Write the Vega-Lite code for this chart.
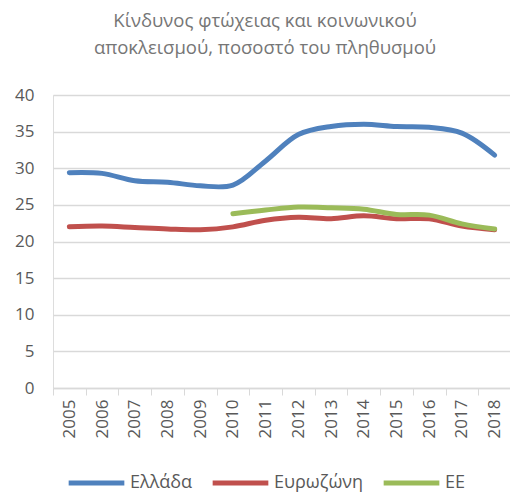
{
  "$schema": "https://vega.github.io/schema/vega-lite/v6.json",
  "autosize": "none",
  "width": 458,
  "height": 293,
  "padding": {"left": 53, "top": 95, "right": 0, "bottom": 105},
  "background": "white",
  "title": {
    "text": ["Κίνδυνος φτώχειας και κοινωνικού", "αποκλεισμού, ποσοστό του πληθυσμού"],
    "font": "Open Sans",
    "fontSize": 18.5,
    "fontWeight": "normal",
    "color": "#767676",
    "anchor": "middle",
    "dx": -17,
    "offset": 29,
    "lineHeight": 27
  },
  "data": {
    "values": [
      {"year": "2005", "country": "Ελλάδα", "value": 29.4},
      {"year": "2006", "country": "Ελλάδα", "value": 29.3},
      {"year": "2007", "country": "Ελλάδα", "value": 28.3},
      {"year": "2008", "country": "Ελλάδα", "value": 28.1},
      {"year": "2009", "country": "Ελλάδα", "value": 27.6},
      {"year": "2010", "country": "Ελλάδα", "value": 27.7},
      {"year": "2011", "country": "Ελλάδα", "value": 31.0},
      {"year": "2012", "country": "Ελλάδα", "value": 34.6},
      {"year": "2013", "country": "Ελλάδα", "value": 35.7},
      {"year": "2014", "country": "Ελλάδα", "value": 36.0},
      {"year": "2015", "country": "Ελλάδα", "value": 35.7},
      {"year": "2016", "country": "Ελλάδα", "value": 35.6},
      {"year": "2017", "country": "Ελλάδα", "value": 34.8},
      {"year": "2018", "country": "Ελλάδα", "value": 31.8},
      {"year": "2005", "country": "Ευρωζώνη", "value": 22.0},
      {"year": "2006", "country": "Ευρωζώνη", "value": 22.1},
      {"year": "2007", "country": "Ευρωζώνη", "value": 21.9},
      {"year": "2008", "country": "Ευρωζώνη", "value": 21.7},
      {"year": "2009", "country": "Ευρωζώνη", "value": 21.6},
      {"year": "2010", "country": "Ευρωζώνη", "value": 22.0},
      {"year": "2011", "country": "Ευρωζώνη", "value": 22.9},
      {"year": "2012", "country": "Ευρωζώνη", "value": 23.3},
      {"year": "2013", "country": "Ευρωζώνη", "value": 23.1},
      {"year": "2014", "country": "Ευρωζώνη", "value": 23.5},
      {"year": "2015", "country": "Ευρωζώνη", "value": 23.1},
      {"year": "2016", "country": "Ευρωζώνη", "value": 23.1},
      {"year": "2017", "country": "Ευρωζώνη", "value": 22.1},
      {"year": "2018", "country": "Ευρωζώνη", "value": 21.6},
      {"year": "2010", "country": "ΕΕ", "value": 23.8},
      {"year": "2011", "country": "ΕΕ", "value": 24.3},
      {"year": "2012", "country": "ΕΕ", "value": 24.7},
      {"year": "2013", "country": "ΕΕ", "value": 24.6},
      {"year": "2014", "country": "ΕΕ", "value": 24.4},
      {"year": "2015", "country": "ΕΕ", "value": 23.7},
      {"year": "2016", "country": "ΕΕ", "value": 23.6},
      {"year": "2017", "country": "ΕΕ", "value": 22.4},
      {"year": "2018", "country": "ΕΕ", "value": 21.7}
    ]
  },
  "mark": {"type": "line", "interpolate": "catmull-rom", "strokeWidth": 5, "strokeCap": "round"},
  "encoding": {
    "x": {
      "field": "year",
      "type": "ordinal",
      "scale": {"paddingInner": 0, "paddingOuter": 0},
      "axis": {
        "title": null,
        "labelAngle": -90,
        "labelFont": "Open Sans",
        "labelFontSize": 17,
        "labelColor": "#595959",
        "labelPadding": 4,
        "tickBand": "extent",
        "tickColor": "#d9d9d9",
        "tickSize": 7,
        "domainColor": "#d9d9d9",
        "domainWidth": 1.5,
        "grid": false
      }
    },
    "y": {
      "field": "value",
      "type": "quantitative",
      "scale": {"domain": [0, 40]},
      "axis": {
        "title": null,
        "values": [0, 5, 10, 15, 20, 25, 30, 35, 40],
        "labelFont": "Open Sans",
        "labelFontSize": 17,
        "labelColor": "#595959",
        "labelPadding": 19,
        "ticks": false,
        "domain": false,
        "grid": true,
        "gridColor": "#d9d9d9",
        "gridWidth": 1.5
      }
    },
    "color": {
      "field": "country",
      "type": "nominal",
      "sort": ["Ελλάδα", "Ευρωζώνη", "ΕΕ"],
      "scale": {"domain": ["Ελλάδα", "Ευρωζώνη", "ΕΕ"], "range": ["#4f81bd", "#c0504d", "#9bbb59"]},
      "legend": {
        "title": null,
        "orient": "none",
        "direction": "horizontal",
        "legendX": 13,
        "legendY": 376,
        "clipHeight": 24,
        "symbolType": "stroke",
        "symbolSize": 3100,
        "symbolStrokeWidth": 5,
        "labelFont": "Open Sans",
        "labelFontSize": 18,
        "labelColor": "#595959",
        "labelOffset": 3,
        "columnPadding": 17
      }
    }
  }
}
